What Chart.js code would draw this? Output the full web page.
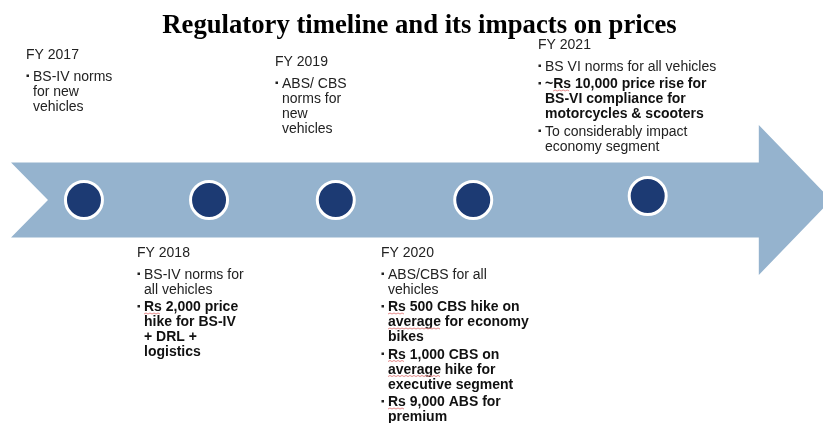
<!DOCTYPE html>
<html>
<head>
<meta charset="utf-8">
<title>Regulatory timeline</title>
<script src="https://cdn.jsdelivr.net/npm/chart.js@4.4.0/dist/chart.umd.min.js"></script>
<style>
    html, body { margin: 0; padding: 0; background: #fff; }
    #wrap { width: 823px; height: 423px; }
</style>
</head>
<body>
<div id="wrap"><canvas id="chart" width="823" height="423"></canvas></div>
<script>
// timeline data
const years = ["FY 2017", "FY 2018", "FY 2019", "FY 2020", "FY 2021"];
// where each milestone sits along the arrow (percent of its length)
const markerPos = [10.2, 25.4, 40.8, 57.5, 78.7];
const markerLift = [0, 0, 0, 0, 0.02];

// notes for each year: one entry per bullet, bold = price impact
const notes2017 = [
    { bold: false, lines: ["BS-IV norms", "for new", "vehicles"] }
];
const notes2018 = [
    { bold: false, lines: ["BS-IV norms for", "all vehicles"] },
    { bold: true, lines: ["Rs 2,000 price", "hike for BS-IV", "+ DRL +", "logistics"] }
];
const notes2019 = [
    { bold: false, lines: ["ABS/ CBS", "norms for", "new", "vehicles"] }
];
const notes2020 = [
    { bold: false, lines: ["ABS/CBS for all", "vehicles"] },
    { bold: true, lines: ["Rs 500 CBS hike on", "average for economy", "bikes"] },
    { bold: true, lines: ["Rs 1,000 CBS on", "average hike for", "executive segment"] },
    { bold: true, lines: ["Rs 9,000 ABS for", "premium"] }
];
const notes2021 = [
    { bold: false, lines: ["BS VI norms for all vehicles"] },
    { bold: true, lines: ["~Rs 10,000 price rise for", "BS-VI compliance for", "motorcycles & scooters"] },
    { bold: false, lines: ["To considerably impact", "economy segment"] }
];
const notes = [notes2017, notes2018, notes2019, notes2020, notes2021];

// layout of the text blocks (pixels)
const blockX = [26, 137, 275, 381, 538];
const blockY = [59, 257, 66, 257, 49];
const flagged = ["Rs", "average"];

const ARROW = "#95b3ce";
const DOT = "#1c3a73";
const FONT = "'Liberation Sans', Arial, sans-serif";

const arrowPlugin = {
    id: "arrow",
    beforeDatasetsDraw(chart) {
        const { ctx, scales: { x, y } } = chart;
        const px = v => x.getPixelForValue(v);
        const py = v => y.getPixelForValue(v);
        ctx.save();
        ctx.fillStyle = ARROW;
        ctx.beginPath();
        ctx.moveTo(px(1.34), py(0.1875));
        ctx.lineTo(px(92.2), py(0.1875));
        ctx.lineTo(px(92.2), py(0.375));
        ctx.lineTo(px(101), py(0));
        ctx.lineTo(px(92.2), py(-0.375));
        ctx.lineTo(px(92.2), py(-0.1875));
        ctx.lineTo(px(1.34), py(-0.1875));
        ctx.lineTo(px(5.83), py(0));
        ctx.closePath();
        ctx.fill();
        ctx.restore();
    }
};

function squiggle(ctx, x0, x1, y) {
    ctx.save();
    ctx.strokeStyle = "#e58a8a";
    ctx.lineWidth = 1;
    ctx.beginPath();
    ctx.moveTo(x0, y);
    let up = true;
    for (let xx = x0 + 2; xx <= x1; xx += 2) {
        ctx.lineTo(xx, up ? y - 1 : y);
        up = !up;
    }
    ctx.stroke();
    ctx.restore();
}

const textPlugin = {
    id: "notes",
    afterDraw(chart) {
        const ctx = chart.ctx;
        ctx.save();
        ctx.textBaseline = "alphabetic";
        ctx.textAlign = "center";
        ctx.fillStyle = "#000";
        ctx.font = "bold 26.7px 'Liberation Serif', 'Times New Roman', serif";
        ctx.fillText("Regulatory timeline and its impacts on prices", 419.5, 33);

        ctx.textAlign = "left";
        years.forEach((yr, i) => {
            const bx = blockX[i];
            let by = blockY[i];
            ctx.font = "14px " + FONT;
            ctx.fillStyle = "#222";
            ctx.fillText(yr, bx, by);
            by += 21.5;
            notes[i].forEach(item => {
                ctx.fillStyle = "#222";
                ctx.fillRect(bx + 0.5, by - 6, 2.5, 2.5);
                ctx.font = (item.bold ? "bold " : "") + "14px " + FONT;
                ctx.fillStyle = item.bold ? "#111" : "#222";
                item.lines.forEach(line => {
                    ctx.fillText(line, bx + 7, by);
                    if (item.bold) {
                        flagged.forEach(w => {
                            const k = line.indexOf(w);
                            if (k >= 0) {
                                const x0 = bx + 7 + ctx.measureText(line.slice(0, k)).width;
                                const x1 = x0 + ctx.measureText(w).width;
                                squiggle(ctx, x0, x1, by + 3);
                            }
                        });
                    }
                    by += 15;
                });
                by += 2.5;
            });
        });
        ctx.restore();
    }
};

new Chart(document.getElementById("chart"), {
    type: "scatter",
    data: {
        labels: years,
        datasets: [{
            label: "Milestones",
            data: markerPos.map((v, i) => ({ x: v, y: markerLift[i] })),
            pointRadius: 18.5,
            pointHoverRadius: 18.5,
            backgroundColor: DOT,
            borderColor: "#fff",
            borderWidth: 3,
            pointHoverBorderWidth: 3
        }]
    },
    options: {
        responsive: false,
        animation: false,
        devicePixelRatio: 1,
        layout: { autoPadding: false, padding: { left: 0, right: 0, top: 0, bottom: 23 } },
        scales: {
            x: { type: "linear", min: 0, max: 100, display: false },
            y: { type: "linear", min: -1, max: 1, display: false }
        },
        plugins: {
            legend: { display: false },
            tooltip: { enabled: false }
        },
        events: []
    },
    plugins: [arrowPlugin, textPlugin]
});
</script>
</body>
</html>
